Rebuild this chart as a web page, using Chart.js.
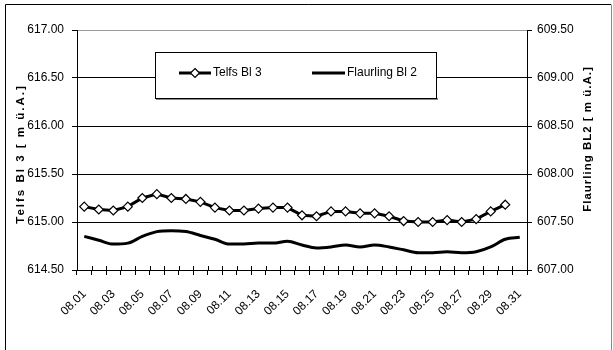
<!DOCTYPE html>
<html>
<head>
<meta charset="utf-8">
<script src="https://cdn.jsdelivr.net/npm/chart.js@4"></script>
<style>
  html, body { margin: 0; padding: 0; background: #fff; }
  canvas { display: block; }
</style>
</head>
<body>
<canvas id="chart" width="613" height="350"></canvas>
<script>
// Telfs Bl 3 / Flaurling Bl 2 - Wasserstand August
const days = ['08.01','08.02','08.03','08.04','08.05','08.06','08.07','08.08','08.09','08.10',
  '08.11','08.12','08.13','08.14','08.15','08.16','08.17','08.18','08.19','08.20',
  '08.21','08.22','08.23','08.24','08.25','08.26','08.27','08.28','08.29','08.30','08.31'];

const telfs = [615.16, 615.13, 615.12, 615.16, 615.25, 615.29, 615.25, 615.24, 615.21, 615.15,
  615.12, 615.12, 615.14, 615.15, 615.15, 615.07, 615.06, 615.11, 615.11, 615.09,
  615.09, 615.06, 615.01, 615.00, 615.00, 615.02, 615.00, 615.03, 615.11, 615.18, null];

const flaurling = [607.35, 607.31, 607.27, 607.28, 607.35, 607.40, 607.41, 607.40, 607.36, 607.32,
  607.27, 607.27, 607.28, 607.28, 607.30, 607.26, 607.23, 607.24, 607.26, 607.24,
  607.26, 607.24, 607.21, 607.18, 607.18, 607.19, 607.18, 607.19, 607.24, 607.32, 607.34];

const leftTicks  = [614.5, 615.0, 615.5, 616.0, 616.5, 617.0];
const rightTicks = [607.0, 607.5, 608.0, 608.5, 609.0, 609.5];

const FONT = "'Liberation Sans Narrow', 'Liberation Sans', Arial, sans-serif";
const tickFont = { family: FONT, size: 12 };

// Rahmen, Achsentitel, Legende, innere Tickstriche
const decor = {
  id: 'decor',
  beforeDraw(chart) {
    const c = chart.ctx;
    c.save();
    c.fillStyle = '#fff';
    c.fillRect(0, 0, chart.width, chart.height);
    c.lineWidth = 1;
    c.strokeStyle = '#000';
    c.beginPath();
    c.moveTo(5.5, 350); c.lineTo(5.5, 4.5); c.lineTo(611, 4.5);
    c.stroke();
    c.strokeStyle = '#888';
    c.beginPath();
    c.moveTo(611.5, 4.5); c.lineTo(611.5, 350);
    c.stroke();
    c.restore();
  },
  afterDatasetsDraw(chart) {
    const c = chart.ctx;
    const x = chart.scales.x;
    const step = x.width / days.length;
    c.save();
    // kleine Striche nach innen an der x-Achse
    c.strokeStyle = '#000';
    c.lineWidth = 1;
    c.beginPath();
    for (let i = 1; i <= days.length; i++) {
      const px = Math.round(x.left + i * step) + 0.5;
      c.moveTo(px, x.top - 4); c.lineTo(px, x.top);
    }
    c.stroke();

    // Legende
    c.fillStyle = '#888';
    c.fillRect(156, 98, 282, 2);
    c.fillStyle = '#fff';
    c.fillRect(155, 52, 282, 47);
    c.strokeStyle = '#000';
    c.strokeRect(155.5, 52.5, 281, 46);
    const ly = 73;
    c.lineWidth = 3;
    c.beginPath(); c.moveTo(179, ly); c.lineTo(211, ly); c.stroke();
    c.beginPath(); c.moveTo(312, ly); c.lineTo(345, ly); c.stroke();
    c.lineWidth = 1.2;
    c.fillStyle = '#fff';
    c.beginPath();
    c.moveTo(195, ly - 4.5); c.lineTo(199.5, ly); c.lineTo(195, ly + 4.5); c.lineTo(190.5, ly);
    c.closePath(); c.fill(); c.stroke();
    c.fillStyle = '#000';
    c.font = '12px ' + FONT;
    c.textBaseline = 'middle';
    c.textAlign = 'left';
    c.fillText('Telfs Bl 3', 213, ly);
    c.fillText('Flaurling Bl 2', 347, ly);

    // Achsentitel
    c.font = 'bold 11.5px ' + FONT;
    c.textAlign = 'center';
    c.letterSpacing = '2px';
    c.translate(21, 154);
    c.rotate(-Math.PI / 2);
    c.fillText('Telfs Bl 3 [ m ü.A.]', 0, 0);
    c.setTransform(1, 0, 0, 1, 0, 0);
    c.letterSpacing = '1px';
    c.translate(588, 139);
    c.rotate(-Math.PI / 2);
    c.fillText('Flaurling BL2 [ m ü.A.]', 0, 0);
    c.restore();
  }
};

new Chart(document.getElementById('chart'), {
  type: 'line',
  data: {
    labels: days,
    datasets: [
      { label: 'Telfs Bl 3', data: telfs, yAxisID: 'y',
        borderColor: '#000', borderWidth: 3, tension: 0,
        pointStyle: 'rectRot', pointRadius: 4.5, pointBorderWidth: 1.2,
        pointBackgroundColor: '#fff', pointBorderColor: '#000' },
      { label: 'Flaurling Bl 2', data: flaurling, yAxisID: 'y2',
        borderColor: '#000', borderWidth: 3, cubicInterpolationMode: 'monotone',
        pointRadius: 0 }
    ]
  },
  options: {
    responsive: false,
    animation: false,
    devicePixelRatio: 1,
    layout: { padding: { top: 30, left: 0, right: 0, bottom: 0 } },
    plugins: { legend: { display: false }, tooltip: { enabled: false } },
    scales: {
      x: {
        offset: true,
        grid: { offset: true, drawOnChartArea: false, tickLength: 5, color: '#000' },
        border: { color: '#000', width: 1 },
        ticks: {
          autoSkip: false, maxRotation: 45, minRotation: 45, padding: 12,
          color: '#000', font: tickFont,
          callback: (v, i) => i % 2 === 0 ? days[i] : ''
        },
        afterFit: s => { s.height = 80; }
      },
      y: {
        position: 'left',
        min: leftTicks[0], max: leftTicks[leftTicks.length - 1],
        afterBuildTicks: s => { s.ticks = leftTicks.map(v => ({ value: v })); },
        grid: { color: ctx => ctx.tick && ctx.tick.value === 617 ? '#999' : '#000', tickLength: 5,
                tickColor: '#000' },
        border: { color: '#000', width: 1 },
        ticks: { color: '#000', font: tickFont, padding: 8, callback: v => v.toFixed(2) },
        afterFit: s => { s.width = 77; }
      },
      y2: {
        position: 'right',
        min: rightTicks[0], max: rightTicks[rightTicks.length - 1],
        afterBuildTicks: s => { s.ticks = rightTicks.map(v => ({ value: v })); },
        grid: { drawOnChartArea: false, tickLength: 5, color: '#000' },
        border: { color: '#000', width: 1 },
        ticks: { color: '#000', font: tickFont, padding: 5, callback: v => v.toFixed(2) },
        afterFit: s => { s.width = 86; }
      }
    }
  },
  plugins: [decor]
});
</script>
</body>
</html>
